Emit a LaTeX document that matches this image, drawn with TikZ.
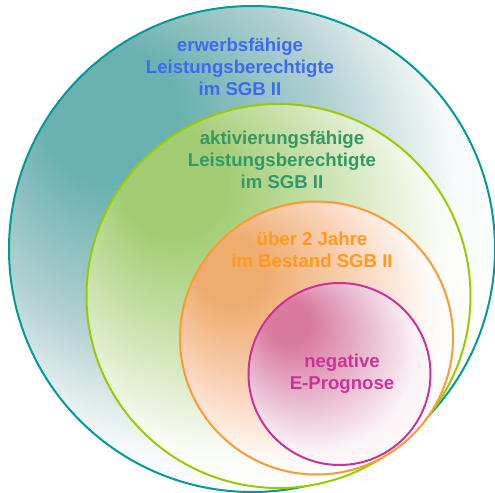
\documentclass[tikz,border=0pt]{standalone}
\usepackage{fontspec}
\setmainfont{Liberation Sans}
\usepackage{xcolor}
\usepackage{tikz}
\definecolor{elbline}{HTML}{009A9A}
\definecolor{elbdark}{HTML}{6BB1B1}
\definecolor{elbmid}{HTML}{B3D1D1}
\definecolor{elbtext}{HTML}{3D6BF0}
\definecolor{aktline}{HTML}{99CC00}
\definecolor{aktdark}{HTML}{A2CD74}
\definecolor{aktmid}{HTML}{D4E7BB}
\definecolor{akttext}{HTML}{339966}
\definecolor{langline}{HTML}{FF9A33}
\definecolor{langdark}{HTML}{EEAC6E}
\definecolor{langmid}{HTML}{FAD5BC}
\definecolor{langtext}{HTML}{FF9A1A}
\definecolor{negline}{HTML}{CC3399}
\definecolor{negdark}{HTML}{D97A9F}
\definecolor{negmid}{HTML}{EBC1D5}
\definecolor{negtext}{HTML}{CC3399}

% fills: light falls in from the upper left
\pgfdeclareradialshading{elbfill}{\pgfpoint{-17bp}{16bp}}{%
  color(0bp)=(elbdark); color(7bp)=(elbdark); color(19bp)=(elbmid);
  color(28bp)=(white!88!elbmid); color(33bp)=(white); color(50bp)=(white)}
\pgfdeclareradialshading{aktfill}{\pgfpoint{-16bp}{17bp}}{%
  color(0bp)=(aktdark); color(7bp)=(aktdark); color(19bp)=(aktmid);
  color(28bp)=(white!88!aktmid); color(33bp)=(white); color(50bp)=(white)}
\pgfdeclareradialshading{langfill}{\pgfpoint{-18bp}{14bp}}{%
  color(0bp)=(langdark); color(6bp)=(langdark); color(19bp)=(langmid);
  color(28bp)=(white!85!langmid); color(33bp)=(white); color(50bp)=(white)}
\pgfdeclareradialshading{negfill}{\pgfpoint{-16bp}{16bp}}{%
  color(0bp)=(negdark); color(6bp)=(negdark); color(19bp)=(negmid);
  color(28bp)=(white!80!negmid); color(34bp)=(white!92!negmid); color(50bp)=(white)}

\begin{document}
\begin{tikzpicture}[
  x=0.5pt, y=-0.5pt,
  font=\fontsize{9.3}{10.9}\selectfont\bfseries,
  ring/.style={line width=1pt},
  lab/.style={align=center,inner sep=0pt},
]
\useasboundingbox (0,0) rectangle (495,493);
\clip (0,0) rectangle (495,493);

% ---- nested sets, outermost first
\shade[ring,draw=elbline,shading=elbfill] (252,249) circle[radius=121.5pt];
\shade[ring,draw=aktline,shading=aktfill] (278.5,296) circle[radius=96pt];
\shade[ring,draw=langline,shading=langfill] (316.5,338) circle[radius=68.25pt];
\shade[ring,draw=negline,shading=negfill] (339.5,374) circle[radius=45.5pt];

% ---- labels
\node[lab,text=elbtext] (elb) at (240,67) {erwerbsfähige\\Leistungsberechtigte\\im SGB II};
\node[lab,text=akttext] (akt) at (282,160) {aktivierungsfähige\\Leistungsberechtigte\\im SGB II};
\node[lab,text=langtext] (lang) at (312,250) {über 2 Jahre\\im Bestand SGB II};
\node[lab,text=negtext] (neg) at (342,374) {negative\\E-Prognose};
\end{tikzpicture}
\end{document}
